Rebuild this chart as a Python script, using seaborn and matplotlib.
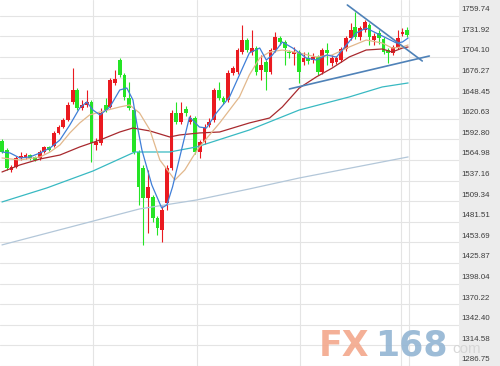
import matplotlib
matplotlib.use("Agg")
import matplotlib.pyplot as plt
import matplotlib.transforms as mtransforms
from matplotlib.patches import Rectangle
import numpy as np
import pandas as pd
import seaborn as sns

# ---------------- data ----------------
opens = [1590.6, 1578.4, 1551.4, 1555.5, 1567.6, 1567.6, 1571.6, 1568.9, 1567.6, 1575.7,
         1582.5, 1583.8, 1601.4, 1609.5, 1618.9, 1643.2, 1659.4, 1635.1, 1639.2, 1643.2,
         1585.2, 1587.9, 1639.2, 1636.5, 1668.9, 1699.9, 1679.7, 1648.6, 1632.4, 1575.7,
         1554.1, 1513.6, 1514.9, 1486.6, 1470.4, 1506.9, 1554.1, 1628.4, 1616.2, 1633.8,
         1616.2, 1621.6, 1575.7, 1589.2, 1612.2, 1618.9, 1659.4, 1648.6, 1645.9, 1682.4,
         1683.7, 1710.7, 1726.9, 1710.7, 1716.1, 1686.4, 1697.2, 1683.7, 1713.4, 1729.6,
         1724.2, 1710.7, 1708.0, 1710.7, 1697.2, 1702.6, 1699.9, 1704.0, 1683.7, 1713.4,
         1695.9, 1697.2, 1699.9, 1714.8, 1729.6, 1744.5, 1731.0, 1740.4, 1747.2, 1726.9,
         1736.4, 1728.3, 1713.4, 1709.4, 1717.5, 1735.0, 1740.4]
closes = [1575.7, 1554.1, 1555.5, 1567.6, 1570.3, 1571.6, 1567.6, 1564.9, 1575.7, 1582.5,
          1578.4, 1601.4, 1609.5, 1618.9, 1639.2, 1659.4, 1635.1, 1639.2, 1643.2, 1587.9,
          1589.2, 1628.4, 1632.4, 1672.9, 1674.3, 1679.7, 1650.0, 1635.1, 1575.7, 1528.5,
          1513.6, 1528.5, 1486.6, 1473.1, 1497.4, 1554.1, 1628.4, 1616.2, 1628.4, 1628.4,
          1621.6, 1575.7, 1589.2, 1609.5, 1616.2, 1659.4, 1648.6, 1643.2, 1682.4, 1689.1,
          1713.4, 1726.9, 1713.4, 1716.1, 1683.7, 1693.2, 1683.7, 1713.4, 1731.0, 1724.2,
          1716.1, 1709.4, 1710.7, 1683.7, 1702.6, 1698.6, 1704.0, 1683.7, 1713.4, 1709.4,
          1702.6, 1702.6, 1714.8, 1729.6, 1740.4, 1731.0, 1743.1, 1751.2, 1731.0, 1732.3,
          1729.6, 1710.7, 1709.4, 1717.5, 1729.6, 1737.7, 1733.7]
highs = [1593.3, 1581.1, 1558.2, 1570.3, 1575.7, 1574.4, 1573.0, 1570.3, 1578.4, 1583.8,
         1583.8, 1604.1, 1612.2, 1621.6, 1643.2, 1689.1, 1662.1, 1645.9, 1659.4, 1645.9,
         1594.6, 1635.1, 1648.6, 1675.6, 1686.4, 1702.6, 1682.4, 1670.2, 1635.1, 1578.4,
         1558.2, 1551.4, 1517.6, 1489.3, 1502.8, 1558.2, 1632.4, 1643.2, 1643.2, 1637.8,
         1625.7, 1624.3, 1591.9, 1613.5, 1621.6, 1662.1, 1670.2, 1651.3, 1686.4, 1691.8,
         1716.1, 1747.2, 1729.6, 1740.4, 1718.8, 1706.7, 1699.9, 1716.1, 1737.7, 1732.3,
         1726.9, 1713.4, 1717.5, 1713.4, 1710.7, 1710.7, 1709.4, 1706.7, 1716.1, 1722.9,
         1706.7, 1705.3, 1717.5, 1732.3, 1749.9, 1764.7, 1745.8, 1753.9, 1749.9, 1736.4,
         1740.4, 1731.0, 1716.1, 1720.2, 1740.4, 1743.1, 1744.5]
lows = [1574.4, 1551.4, 1548.7, 1554.1, 1564.9, 1566.3, 1564.9, 1563.6, 1564.9, 1574.4,
        1577.0, 1582.5, 1600.0, 1608.1, 1617.6, 1640.5, 1632.4, 1632.4, 1636.5, 1562.2,
        1578.4, 1585.2, 1629.7, 1635.1, 1666.2, 1677.0, 1645.9, 1632.4, 1573.0, 1504.2,
        1450.2, 1466.3, 1481.2, 1463.6, 1454.2, 1497.4, 1551.4, 1613.5, 1613.5, 1624.3,
        1613.5, 1573.0, 1567.6, 1586.5, 1609.5, 1616.2, 1645.9, 1640.5, 1643.2, 1679.7,
        1681.0, 1708.0, 1710.7, 1706.7, 1679.7, 1672.9, 1659.4, 1681.0, 1710.7, 1720.2,
        1693.2, 1702.6, 1693.2, 1668.9, 1693.2, 1694.5, 1695.9, 1679.7, 1681.0, 1693.2,
        1691.8, 1694.5, 1697.2, 1712.1, 1726.9, 1728.3, 1726.9, 1737.7, 1720.2, 1720.2,
        1721.5, 1708.0, 1695.9, 1706.7, 1714.8, 1732.3, 1731.0]

ma5_idx = [0, 1.7, 3.8, 5.9, 8.1, 10.2, 12.3, 14.4, 16.5, 18, 19.3, 20.8, 22.9, 25, 26.5,
           27.8, 28.6, 29.7, 31.8, 33.9, 35, 36.2, 38.1, 39.8, 41.9, 43.4, 45.5, 48.3,
           50.4, 52.5, 54.7, 56.1, 57.4, 59.5, 61.7, 64.6, 66.7, 68.9, 71, 73.1, 75.2,
           77.3, 79.4, 81.6, 83.7, 85, 86.2]
ma5_val = [1575.7, 1574.4, 1567.6, 1569.0, 1574.4, 1581.1, 1591.9, 1612.2, 1635.1, 1643.2,
           1632.4, 1625.7, 1636.5, 1659.4, 1662.1, 1645.9, 1614.9, 1578.4, 1531.2, 1500.1,
           1504.2, 1528.5, 1578.4, 1622.9, 1609.4, 1608.1, 1628.4, 1650.0, 1679.7, 1709.4,
           1716.1, 1699.9, 1706.7, 1724.2, 1716.1, 1702.6, 1699.9, 1706.7, 1703.9, 1720.2,
           1736.4, 1743.1, 1736.4, 1729.6, 1722.9, 1724.2, 1729.6]

ma10_idx = [0, 3.8, 8.1, 10.2, 12.3, 14.4, 16.5, 18.6, 20.8, 25, 27.1, 29.2, 31.4, 33.5,
            36.7, 38.8, 40.5, 41.9, 46.2, 50.4, 52.5, 54.7, 56.8, 59.5, 63.1, 66.7, 70.1,
            73.7, 77.3, 80.7, 82.8, 85, 86.2]
ma10_val = [1567.6, 1564.9, 1569.0, 1575.7, 1585.2, 1601.4, 1614.9, 1625.7, 1629.7, 1636.5,
            1639.2, 1628.4, 1605.4, 1564.9, 1537.9, 1551.4, 1569.0, 1582.5, 1614.9, 1650.0,
            1679.7, 1702.6, 1710.7, 1713.4, 1709.4, 1704.0, 1706.7, 1717.5, 1726.9, 1722.9,
            1716.1, 1717.5, 1720.2]

ma20_idx = [0, 3.8, 8.1, 12.3, 16.5, 20.8, 25, 27.8, 31.4, 35.6, 37.7, 41.9, 46.2, 52.5,
            56.8, 59.5, 63.1, 66.7, 70.1, 73.7, 77.3, 80.7, 82.8, 85, 86.2]
ma20_val = [1548.7, 1558.2, 1566.3, 1571.6, 1582.5, 1591.9, 1602.7, 1608.1, 1604.1, 1596.0,
            1598.7, 1601.4, 1602.7, 1614.9, 1621.6, 1636.5, 1662.1, 1677.0, 1689.1, 1704.0,
            1713.4, 1714.8, 1710.7, 1716.1, 1717.5]

ma60_idx = [0, 9.5, 19.3, 28.2, 35.6, 41.3, 52.5, 63.1, 73.7, 80.7, 86.2]
ma60_val = [1508.2, 1527.1, 1550.0, 1575.7, 1575.7, 1582.5, 1605.4, 1632.4, 1650.0, 1663.5, 1668.9]

ma120_idx = [0, 29.2, 41.3, 52.5, 63.1, 86.2]
ma120_val = [1450.2, 1498.8, 1510.9, 1525.8, 1540.6, 1569.0]

trend_down_idx = [73.3, 89.2]
trend_down_val = [1774.2, 1698.6]
trend_up_idx = [61.0, 90.7]
trend_up_val = [1660.8, 1705.3]

tick_values = [1759.74, 1731.92, 1704.10, 1676.27, 1648.45, 1620.63, 1592.80, 1564.98,
               1537.16, 1509.34, 1481.51, 1453.69, 1425.87, 1398.04, 1370.22, 1342.40,
               1314.58, 1286.75]
tick_labels = ["1759.74", "1731.92", "1704.10", "1676.27", "1648.45", "1620.63", "1592.80",
               "1564.98", "1537.16", "1509.34", "1481.51", "1453.69", "1425.87", "1398.04",
               "1370.22", "1342.40", "1314.58", "1286.75"]
vgrid_idx = [19.3, 41.3, 63.3, 84.7, 86.3]

# ---------------- style ----------------
sns.set_theme(style="white")
plt.rcParams['font.family'] = ['Liberation Sans', 'DejaVu Sans']

RED = "#ea1a20"
GREEN = "#25e425"

fig = plt.figure(figsize=(5.0, 3.66), dpi=100)
fig.patches.append(Rectangle((0.918, 0), 0.082, 1, transform=fig.transFigure,
                             facecolor="#ececec", edgecolor="none", zorder=-5))
ax = fig.add_axes([0, 0, 0.918, 1])
ax.set_facecolor("white")
ax.set_zorder(1)

df = pd.DataFrame({"open": opens, "high": highs, "low": lows, "close": closes})
df["idx"] = np.arange(len(df))
up = df["close"] >= df["open"]
colors = np.where(up, RED, GREEN)

# wicks
ax.vlines(df["idx"], df["low"], df["high"], colors=colors, linewidth=0.8, zorder=3)
# bodies
body_bottom = np.minimum(df["open"], df["close"])
body_h = np.maximum(np.abs(df["close"] - df["open"]), 1.8)
ax.bar(df["idx"], body_h, bottom=body_bottom, width=0.8, color=colors,
       edgecolor="none", linewidth=0, zorder=4)

# moving averages
ma_specs = [
    (ma120_idx, ma120_val, "#b3c7d9", 0.9),
    (ma60_idx, ma60_val, "#38b9c2", 0.9),
    (ma20_idx, ma20_val, "#a8292e", 0.9),
    (ma10_idx, ma10_val, "#e2b88c", 0.9),
    (ma5_idx, ma5_val, "#3f7fd8", 0.9),
]
for xs, ys, col, lw in ma_specs:
    sns.lineplot(x=xs, y=ys, ax=ax, color=col, linewidth=lw, zorder=5, estimator=None)

# trend lines
ax.plot(trend_down_idx, trend_down_val, color="#4f82b8", linewidth=1.2, zorder=6)
ax.plot(trend_up_idx, trend_up_val, color="#4f82b8", linewidth=1.2, zorder=6)

# axes limits & grid
ax.set_xlim(-0.42, 97.0)
ax.set_ylim(1286.7, 1780.94)
ax.set_yticks(tick_values)
ax.set_xticks(vgrid_idx)
ax.set_yticklabels([])
ax.set_xticklabels([])
ax.tick_params(length=0)
ax.grid(True, color="#e4e4e4", linewidth=0.8, zorder=0)
ax.set_axisbelow(True)
for s in ax.spines.values():
    s.set_visible(False)

# right-hand price labels
trans = mtransforms.blended_transform_factory(ax.transAxes, ax.transData)
off = mtransforms.ScaledTranslation(0, 6 / 100, fig.dpi_scale_trans)
for v, lab in zip(tick_values, tick_labels):
    ax.text(1.005, v, lab, transform=trans + off, fontsize=5.7, color="#3c3c3c",
            ha="left", va="center", clip_on=False, zorder=10)

# watermark
fig.text(0.638, 0.028, "FX", fontsize=25, fontweight="bold", color="#f3a88c",
         alpha=0.9, family=["DejaVu Sans"], zorder=20)
fig.text(0.75, 0.028, "168", fontsize=25, fontweight="bold", color="#93b5d3",
         alpha=0.9, family=["DejaVu Sans"], zorder=20)
fig.text(0.905, 0.035, "com", fontsize=11, color="#d4d4d4", alpha=0.9, zorder=20)

fig.savefig("out.png", dpi=100)
